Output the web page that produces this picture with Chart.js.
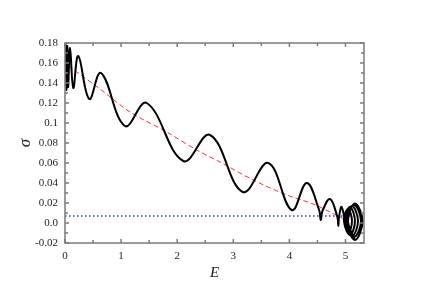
<!DOCTYPE html>
<html>
<head>
<meta charset="utf-8">
<script src="https://cdn.jsdelivr.net/npm/chart.js@4/dist/chart.umd.min.js"></script>
<style>
  html, body { margin: 0; padding: 0; background: #fff; }
  canvas { display: block; }
</style>
</head>
<body>
<canvas id="myChart" width="429" height="287"></canvas>
<script>
// black curve (parametric, loops at both ends)
const curveE = [0.0, 0.012, 0.025, 0.04, 0.055, 0.09, 0.148, 0.237, 0.433, 0.642, 1.07, 1.456,
  2.109, 2.585, 3.168, 3.624, 4.041, 4.308, 4.53, 4.558, 4.59, 4.724, 4.855, 4.872, 4.885, 4.932,
  5.045, 5.116, 5.045, 4.973, 5.080, 5.169, 5.080, 4.991, 5.116, 5.223, 5.116, 5.009,
  5.152, 5.276, 5.152, 5.027, 5.169, 5.303, 5.169, 5.045, 5.169];
const curveSigma = [0.145, 0.178, 0.133, 0.177, 0.136, 0.175, 0.135, 0.167, 0.124, 0.150, 0.097, 0.120,
  0.062, 0.088, 0.031, 0.060, 0.013, 0.040, 0.013, 0.003, 0.012, 0.024, 0.006, -0.003, 0.006, 0.016,
  -0.010, 0.002, 0.014, 0.002, -0.012, 0.002, 0.016, 0.002, -0.013, 0.002, 0.017, 0.002,
  -0.014, 0.002, 0.018, 0.002, -0.017, 0.002, 0.0195, 0.002, -0.017];

// red dashed trend
const trendE = [0.06, 0.624, 1.159, 1.813, 2.348, 2.763, 3.356, 3.952, 4.426, 4.724, 5.045];
const trendSigma = [0.157, 0.134, 0.111, 0.091, 0.073, 0.061, 0.043, 0.028, 0.019, 0.011, 0.002];

// blue dotted level
const levelE = [0, 5.33];
const levelSigma = [0.007, 0.007];

const xTickLabels = ['0', '1', '2', '3', '4', '5'];
const yTickLabels = ['-0.02', '0.0', '0.02', '0.04', '0.06', '0.08', '0.1', '0.12', '0.14', '0.16', '0.18'];

const toPoints = (xs, ys) => xs.map((x, i) => ({ x: x, y: ys[i] }));

Chart.defaults.font.family = "'Liberation Serif', 'DejaVu Serif', serif";
Chart.defaults.font.size = 11;
Chart.defaults.color = '#222';

// frame with inward ticks on all four sides
const framePlugin = {
  id: 'frame',
  afterDatasetsDraw(chart) {
    const { ctx, chartArea: a, scales } = chart;
    ctx.save();
    ctx.strokeStyle = '#7a7a7a';
    ctx.lineWidth = 1.5;
    ctx.beginPath();
    scales.x.ticks.forEach(t => {
      const px = scales.x.getPixelForValue(t.value);
      const len = Math.abs(t.value - Math.round(t.value)) < 1e-6 ? 4 : 3;
      ctx.moveTo(px, a.bottom); ctx.lineTo(px, a.bottom - len);
      ctx.moveTo(px, a.top); ctx.lineTo(px, a.top + len);
    });
    scales.y.ticks.forEach(t => {
      const py = scales.y.getPixelForValue(t.value);
      const len = Math.round(t.value * 100) % 2 === 0 ? 4 : 3;
      ctx.moveTo(a.left, py); ctx.lineTo(a.left + len, py);
      ctx.moveTo(a.right, py); ctx.lineTo(a.right - len, py);
    });
    ctx.stroke();
    ctx.strokeRect(a.left, a.top, a.right - a.left, a.bottom - a.top);
    ctx.restore();
  }
};

const ctx = document.getElementById('myChart').getContext('2d');

const chart = new Chart(ctx, {
  type: 'scatter',
  data: {
    datasets: [
      {
        label: 'sigma',
        data: toPoints(curveE, curveSigma),
        showLine: true,
        borderColor: '#000',
        borderWidth: 2,
        tension: 0.4,
        pointRadius: 0
      },
      {
        label: 'trend',
        data: toPoints(trendE, trendSigma),
        showLine: true,
        borderColor: '#ff3030',
        borderWidth: 1,
        borderDash: [5, 3],
        tension: 0.3,
        pointRadius: 0
      },
      {
        label: 'level',
        data: toPoints(levelE, levelSigma),
        showLine: true,
        borderColor: '#3030ff',
        borderWidth: 1.5,
        borderDash: [1.5, 2.5],
        pointRadius: 0
      }
    ]
  },
  options: {
    responsive: false,
    devicePixelRatio: 1,
    animation: false,
    layout: { padding: { top: 43, right: 65, left: 0, bottom: 0 } },
    plugins: {
      legend: { display: false },
      tooltip: { enabled: false }
    },
    scales: {
      x: {
        type: 'linear',
        min: 0,
        max: 5.33,
        grid: { display: false, drawTicks: false },
        border: { display: false },
        afterFit(scale) { scale.height = 44; },
        ticks: {
          stepSize: 0.5,
          includeBounds: false,
          padding: 7,
          maxRotation: 0,
          autoSkip: false,
          callback: v => Math.abs(v - Math.round(v)) < 1e-6 ? (xTickLabels[Math.round(v)] || '') : ''
        },
        title: {
          display: true,
          text: 'E',
          color: '#222',
          padding: { top: 0, bottom: 5 },
          font: { size: 15, style: 'italic' }
        }
      },
      y: {
        type: 'linear',
        min: -0.02,
        max: 0.18,
        grid: { display: false, drawTicks: false },
        border: { display: false },
        afterFit(scale) { scale.width = 65; },
        ticks: {
          stepSize: 0.01,
          padding: 7,
          autoSkip: false,
          callback: v => {
            const k = Math.round(v * 100);
            return k % 2 === 0 ? (yTickLabels[(k + 2) / 2] || '') : '';
          }
        },
        title: {
          display: true,
          text: 'σ',
          color: '#222',
          padding: { top: 15, bottom: 0 },
          font: { size: 17, style: 'italic' }
        }
      }
    }
  },
  plugins: [framePlugin]
});
</script>
</body>
</html>
